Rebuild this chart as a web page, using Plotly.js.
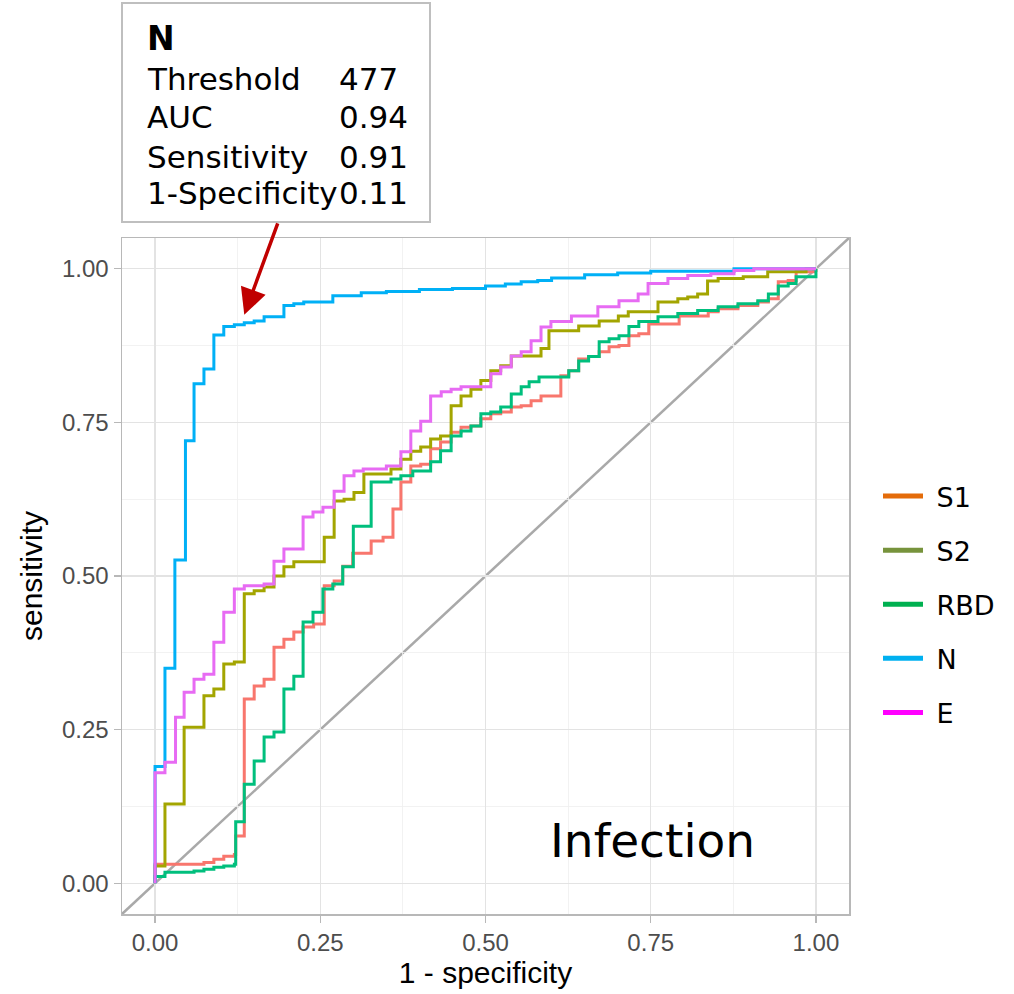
<!DOCTYPE html>
<html>
<head>
<meta charset="utf-8">
<script src="https://cdn.plot.ly/plotly-3.0.1.min.js"></script>
<style>html,body{margin:0;padding:0;background:#fff;}</style>
</head>
<body>
<div id="chart" style="width:1014px;height:994px;"></div>
<script>
// ROC curve data (1 - specificity, sensitivity)
const seriesNames = ['S1', 'S2', 'RBD', 'N', 'E'];

const fpr_S1 = [0, 0, 0.074, 0.089, 0.104, 0.120, 0.122, 0.135, 0.150, 0.165, 0.180, 0.195, 0.210, 0.224, 0.240, 0.256, 0.271, 0.284, 0.299, 0.327, 0.345, 0.360, 0.372, 0.387, 0.402, 0.417, 0.432, 0.448, 0.463, 0.478, 0.493, 0.508, 0.523, 0.539, 0.554, 0.569, 0.584, 0.614, 0.626, 0.641, 0.656, 0.672, 0.687, 0.702, 0.717, 0.732, 0.747, 0.793, 0.837, 0.852, 0.882, 0.912, 0.928, 0.943, 0.958, 0.970, 0.997, 1];
const tpr_S1 = [0, 0.031, 0.034, 0.039, 0.044, 0.047, 0.077, 0.300, 0.321, 0.332, 0.384, 0.397, 0.409, 0.417, 0.422, 0.484, 0.492, 0.516, 0.537, 0.557, 0.563, 0.609, 0.653, 0.679, 0.682, 0.707, 0.718, 0.734, 0.742, 0.744, 0.756, 0.764, 0.767, 0.775, 0.777, 0.785, 0.793, 0.826, 0.834, 0.853, 0.857, 0.865, 0.873, 0.875, 0.891, 0.894, 0.910, 0.923, 0.930, 0.935, 0.940, 0.946, 0.951, 0.979, 0.981, 0.995, 0.997, 1];

const fpr_S2 = [0, 0, 0.015, 0.044, 0.074, 0.089, 0.104, 0.120, 0.135, 0.150, 0.165, 0.180, 0.195, 0.210, 0.256, 0.271, 0.286, 0.301, 0.316, 0.357, 0.372, 0.387, 0.402, 0.417, 0.432, 0.448, 0.463, 0.478, 0.493, 0.508, 0.523, 0.539, 0.584, 0.596, 0.641, 0.672, 0.701, 0.716, 0.761, 0.791, 0.806, 0.821, 0.836, 0.852, 0.890, 0.927, 0.985, 1];
const tpr_S2 = [0, 0.028, 0.129, 0.254, 0.305, 0.316, 0.357, 0.360, 0.471, 0.476, 0.482, 0.500, 0.515, 0.523, 0.563, 0.622, 0.625, 0.636, 0.666, 0.674, 0.690, 0.703, 0.710, 0.723, 0.728, 0.777, 0.793, 0.804, 0.818, 0.834, 0.842, 0.858, 0.870, 0.899, 0.907, 0.915, 0.923, 0.930, 0.946, 0.951, 0.954, 0.959, 0.980, 0.984, 0.987, 0.995, 1, 1];

const fpr_RBD = [0, 0, 0.015, 0.059, 0.074, 0.089, 0.104, 0.120, 0.122, 0.135, 0.150, 0.165, 0.180, 0.195, 0.210, 0.224, 0.239, 0.254, 0.269, 0.284, 0.300, 0.327, 0.357, 0.372, 0.390, 0.417, 0.432, 0.448, 0.463, 0.478, 0.493, 0.508, 0.523, 0.539, 0.554, 0.566, 0.581, 0.626, 0.641, 0.656, 0.672, 0.687, 0.702, 0.717, 0.732, 0.761, 0.791, 0.821, 0.852, 0.882, 0.912, 0.928, 0.943, 0.958, 0.970, 1];
const tpr_RBD = [0, 0.011, 0.018, 0.020, 0.023, 0.026, 0.028, 0.031, 0.100, 0.161, 0.199, 0.238, 0.246, 0.316, 0.337, 0.425, 0.441, 0.479, 0.487, 0.515, 0.581, 0.653, 0.658, 0.663, 0.671, 0.686, 0.704, 0.728, 0.736, 0.744, 0.764, 0.767, 0.775, 0.796, 0.808, 0.816, 0.824, 0.834, 0.850, 0.857, 0.881, 0.886, 0.891, 0.906, 0.914, 0.922, 0.927, 0.932, 0.938, 0.943, 0.948, 0.959, 0.972, 0.976, 0.987, 1];

const fpr_N = [0, 0, 0.015, 0.030, 0.046, 0.059, 0.074, 0.089, 0.104, 0.120, 0.135, 0.150, 0.165, 0.195, 0.210, 0.225, 0.269, 0.312, 0.350, 0.400, 0.450, 0.500, 0.530, 0.554, 0.579, 0.600, 0.650, 0.700, 0.750, 0.876, 1];
const tpr_N = [0, 0.190, 0.350, 0.526, 0.720, 0.813, 0.837, 0.892, 0.906, 0.909, 0.912, 0.915, 0.922, 0.940, 0.943, 0.946, 0.956, 0.961, 0.963, 0.966, 0.968, 0.972, 0.975, 0.979, 0.981, 0.985, 0.990, 0.993, 0.996, 1, 1];

const fpr_E = [0, 0, 0.015, 0.031, 0.044, 0.059, 0.074, 0.089, 0.104, 0.120, 0.135, 0.165, 0.180, 0.195, 0.224, 0.239, 0.254, 0.271, 0.286, 0.301, 0.315, 0.350, 0.372, 0.387, 0.402, 0.417, 0.433, 0.448, 0.463, 0.508, 0.523, 0.539, 0.554, 0.569, 0.584, 0.599, 0.630, 0.670, 0.702, 0.731, 0.746, 0.776, 0.806, 0.841, 0.876, 0.906, 1];
const tpr_E = [0, 0.180, 0.197, 0.270, 0.311, 0.332, 0.340, 0.392, 0.441, 0.479, 0.484, 0.487, 0.524, 0.544, 0.596, 0.604, 0.612, 0.638, 0.663, 0.671, 0.674, 0.679, 0.702, 0.736, 0.752, 0.793, 0.800, 0.804, 0.808, 0.829, 0.840, 0.858, 0.865, 0.883, 0.905, 0.914, 0.923, 0.938, 0.948, 0.959, 0.976, 0.984, 0.989, 0.992, 0.997, 1, 1];

// colours of the drawn curves (ggplot hue palette) and of the legend keys
const lineColors = ['#F8766D', '#A3A500', '#00BF7D', '#00B0F6', '#E76BF3'];
const legendColors = ['#E46C0A', '#77933C', '#00B050', '#00B0F0', '#FF00FF'];

// callout box contents
const boxTitle = 'N';
const boxLabels = ['Threshold', 'AUC', 'Sensitivity', '1-Specificity'];
const boxValues = ['477', '0.94', '0.91', '0.11'];
const arrowPoint = {x: 0.135, y: 0.925};
const panelLabel = 'Infection';

const fprs = [fpr_S1, fpr_S2, fpr_RBD, fpr_N, fpr_E];
const tprs = [tpr_S1, tpr_S2, tpr_RBD, tpr_N, tpr_E];

const traces = [];
seriesNames.forEach((nm, i) => {
  traces.push({
    x: fprs[i], y: tprs[i], type: 'scatter', mode: 'lines', name: nm,
    line: {color: lineColors[i], width: 3, shape: 'hv'},
    showlegend: false, hoverinfo: 'skip'
  });
});
seriesNames.forEach((nm, i) => {
  traces.push({
    x: [null], y: [null], type: 'scatter', mode: 'lines', name: '\u00A0' + nm,
    legendgroup: 'g' + i,
    line: {color: legendColors[i], width: 5},
    showlegend: true, hoverinfo: 'skip'
  });
});

const W = 1014, H = 994;
const M = {l: 122, r: 165, t: 238, b: 80};
const pw = W - M.l - M.r, ph = H - M.t - M.b;
const px = v => (v - M.l) / pw;       // pixel x -> paper
const py = v => (H - M.b - v) / ph;   // pixel y -> paper

const txtFont = 'DejaVu Sans, Verdana, sans-serif';
const axFont = 'Liberation Sans, Arial, Helvetica, sans-serif';

const annotations = [];
annotations.push({xref: 'paper', yref: 'paper', x: px(145), y: py(38), xanchor: 'left', yanchor: 'middle',
  text: '<b>' + boxTitle + '</b>', showarrow: false, font: {family: txtFont, size: 33, color: '#000'}});
const rowY = [79, 117, 157, 193];
boxLabels.forEach((lab, i) => {
  annotations.push({xref: 'paper', yref: 'paper', x: px(145), y: py(rowY[i]), xanchor: 'left', yanchor: 'middle',
    text: lab, showarrow: false, font: {family: txtFont, size: 31, color: '#000'}});
  annotations.push({xref: 'paper', yref: 'paper', x: px(337), y: py(rowY[i]), xanchor: 'left', yanchor: 'middle',
    text: boxValues[i], showarrow: false, font: {family: txtFont, size: 31, color: '#000'}});
});
annotations.push({xref: 'x', yref: 'y', x: arrowPoint.x, y: arrowPoint.y, text: '',
  showarrow: true, arrowhead: 2, arrowsize: 1.5, arrowwidth: 3.5, arrowcolor: '#C00000',
  ax: 34, ay: -93, standoff: 0});
annotations.push({xref: 'paper', yref: 'paper', x: px(652), y: py(840), xanchor: 'center', yanchor: 'middle',
  text: panelLabel, showarrow: false, font: {family: txtFont, size: 47, color: '#000'}});

const axisCommon = {
  range: [-0.05, 1.05], tick0: 0, dtick: 0.25, tickformat: '.2f',
  showgrid: true, gridcolor: '#E3E3E3', gridwidth: 1.3,
  minor: {dtick: 0.125, showgrid: true, gridcolor: '#EFEFEF', gridwidth: 0.8},
  zeroline: false, showline: true, mirror: true, linecolor: '#B8B8B8', linewidth: 1.5,
  ticks: 'outside', ticklen: 7, tickwidth: 1.5, tickcolor: '#B8B8B8',
  tickfont: {family: axFont, size: 24, color: '#4D4D4D'},
  fixedrange: true
};

const layout = {
  width: W, height: H, margin: M,
  paper_bgcolor: '#fff', plot_bgcolor: '#fff',
  showlegend: true,
  xaxis: Object.assign({}, axisCommon, {title: {text: '1 - specificity', font: {family: axFont, size: 30, color: '#000'}, standoff: 6}}),
  yaxis: Object.assign({}, axisCommon, {title: {text: 'sensitivity', font: {family: axFont, size: 30, color: '#000'}, standoff: 10}}),
  legend: {x: px(878), xanchor: 'left', y: py(472), yanchor: 'top',
    font: {family: txtFont, size: 27, color: '#000'}, tracegroupgap: 16, itemwidth: 40,
    bgcolor: 'rgba(0,0,0,0)', borderwidth: 0},
  shapes: [
    {type: 'line', xref: 'x domain', yref: 'y domain', x0: 0, y0: 0, x1: 1, y1: 1,
      line: {color: '#A9A9A9', width: 2.5}, layer: 'below'},
    {type: 'rect', xref: 'paper', yref: 'paper', x0: px(122), x1: px(430), y0: py(222), y1: py(3),
      line: {color: '#BFBFBF', width: 2}, fillcolor: 'rgba(255,255,255,0)', layer: 'above'}
  ],
  annotations: annotations,
  hovermode: false
};

Plotly.newPlot('chart', traces, layout, {staticPlot: true, displayModeBar: false});
</script>
</body>
</html>
